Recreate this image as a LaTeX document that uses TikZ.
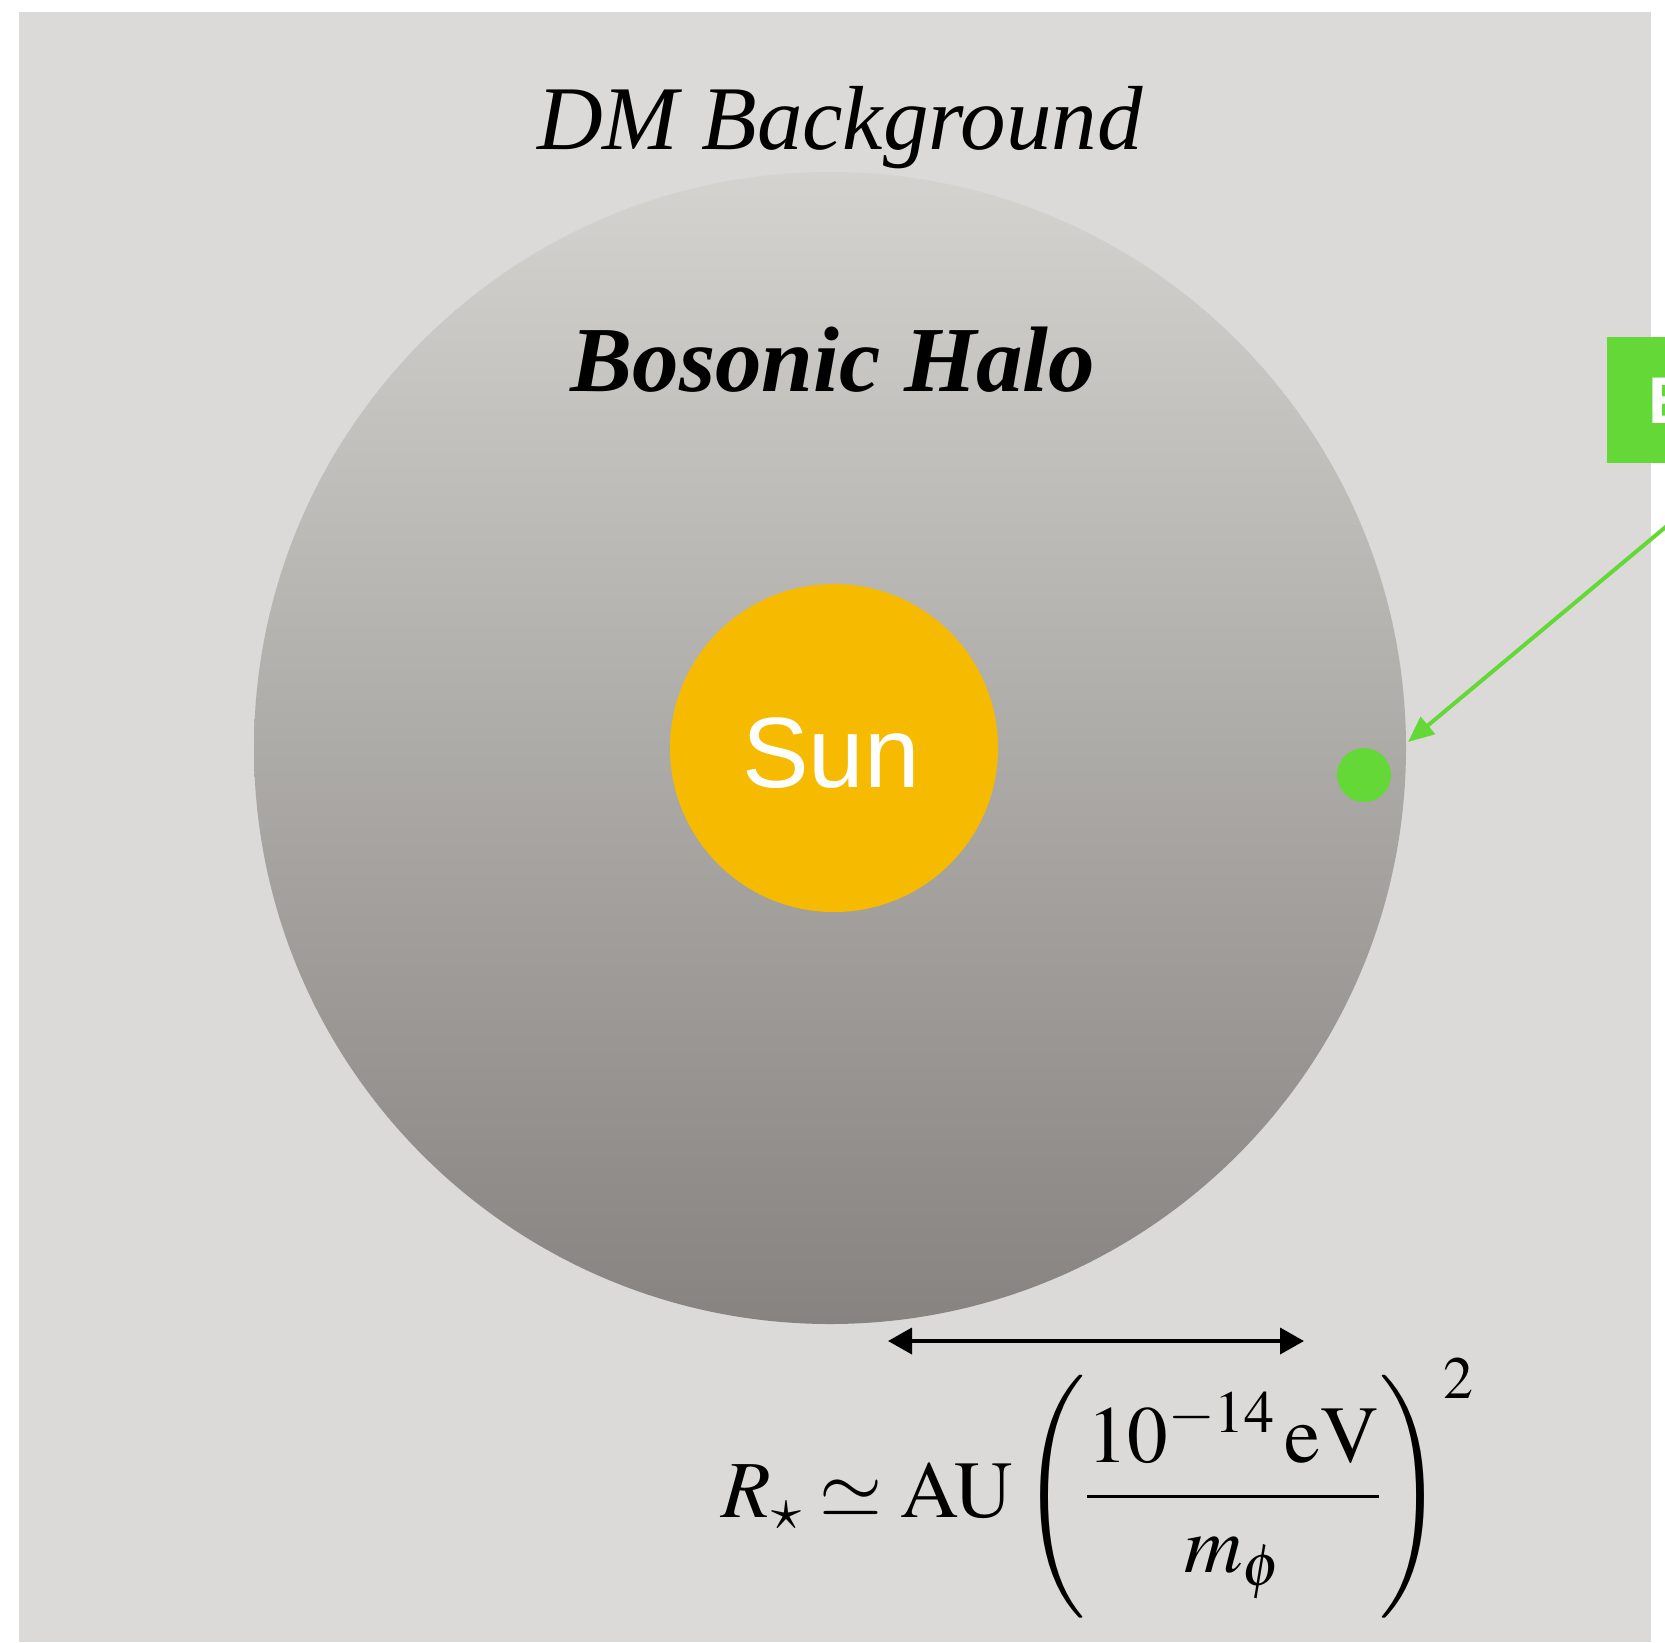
\documentclass[tikz,border=0pt]{standalone}
\usepackage{mathptmx}
\usepackage{fontspec}
\newfontfamily\sunfont{Liberation Sans}
\newfontfamily\titlefont{Liberation Serif}
\usetikzlibrary{arrows.meta}
\definecolor{bgray}{HTML}{DBDAD8}
\definecolor{halotop}{HTML}{D4D3D0}
\definecolor{halobot}{HTML}{868380}
\definecolor{sunc}{HTML}{F6BB00}
\definecolor{grn}{HTML}{64D837}
\tikzset{
  halo/.style={top color=halotop, bottom color=halobot, draw=none},
  sunstyle/.style={circle, fill=sunc, inner sep=0pt, minimum size=328pt},
  dotstyle/.style={circle, fill=grn, inner sep=0pt, minimum size=54pt},
  greenarrow/.style={draw=grn, line width=4pt, -{Triangle[length=26pt,width=22pt]}},
  dimarrow/.style={draw=black, line width=3.8pt, {Triangle[length=24pt,width=26pt]}-{Triangle[length=24pt,width=26pt]}},
  greenbox/.style={fill=grn, draw=none}
}
\begin{document}
\begin{tikzpicture}[x=1pt,y=-1pt]
\useasboundingbox (0,0) rectangle (1665,1642);
\clip (0,0) rectangle (1665,1642);
\fill[bgray] (19,12) rectangle (1651,1642);
% halo
\shade[halo] (830,748) circle [radius=576];
% sun
\node[sunstyle] (sun) at (834,748) {};
\node[anchor=base, text=white, font=\sunfont\fontsize{100}{104}\selectfont] (sunlabel) at (831,787) {Sun};
% texts
\node[anchor=base, font=\titlefont\itshape\fontsize{91}{96}\selectfont] (dm) at (840,149) {DM Background};
\node[anchor=base, font=\titlefont\bfseries\itshape\fontsize{93}{96}\selectfont] (bh) at (833,391) {Bosonic Halo};
% green box
\fill[greenbox] (1607,337) rectangle (1700,463);
\node[anchor=base west, text=white, inner sep=0pt, font=\sunfont\bfseries\fontsize{66}{70}\selectfont] (boxlabel) at (1648,423) {E};
% dot and arrow
\node[dotstyle] (dot) at (1364,775) {};
\coordinate (astart) at (1680,515);
\coordinate (aend) at (1408,742);
\draw[greenarrow] (astart) -- (aend);
% dimension arrow
\coordinate (dl) at (888,1341);
\coordinate (dr) at (1304,1341);
\draw[dimarrow] (dl) -- (dr);
% formula
\node[anchor=base, inner sep=0pt, font=\fontsize{81}{92}\selectfont] (formula) at (1098,1517)
  {$\displaystyle R_\star \simeq \mathrm{AU}\left(\frac{10^{-14}\,\mathrm{eV}}{m_\phi}\right)^{2}$};
\end{tikzpicture}
\end{document}
